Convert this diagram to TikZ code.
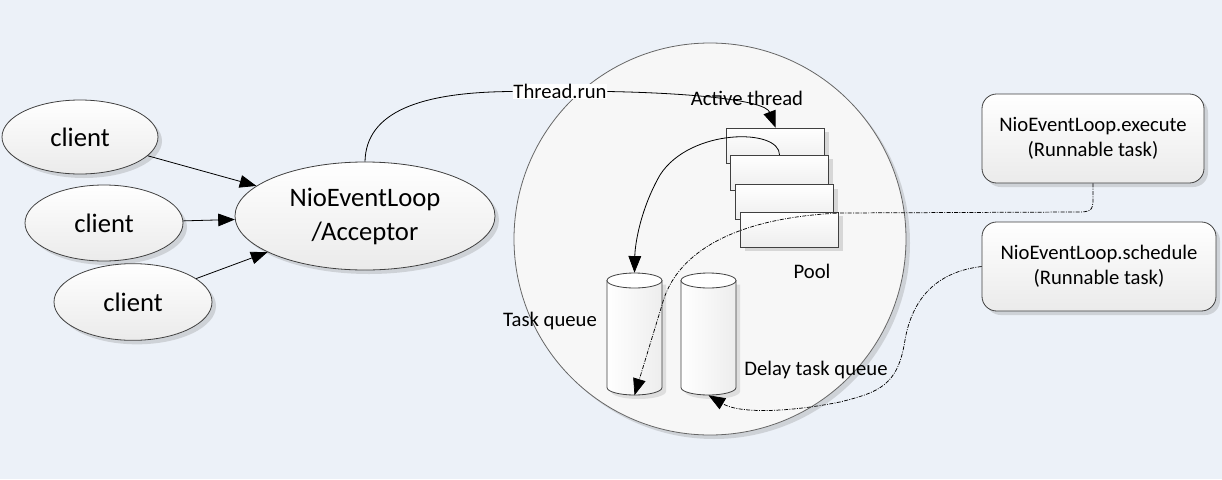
\documentclass[tikz,border=0pt]{standalone}
\usepackage{fontspec}
\setmainfont{Carlito}
\usetikzlibrary{shapes.geometric,shadows,arrows.meta}
\definecolor{bg}{RGB}{236,241,248}
\definecolor{edge}{RGB}{64,64,64}
\begin{document}
\begin{tikzpicture}[x=0.75pt,y=-0.75pt,
  shd/.style={drop shadow={shadow xshift=3pt,shadow yshift=-3pt,opacity=0.22,fill=black!60}},
  ell/.style={ellipse,draw=edge,line width=0.6pt,inner sep=0pt,top color=white,bottom color=black!8,shd,font=\fontsize{20}{24}\selectfont},
  rbox/.style={rectangle,rounded corners=11pt,draw=edge,line width=0.6pt,top color=white,bottom color=black!8,shd,align=center,font=\fontsize{15.5}{18.8}\selectfont},
  prect/.style={rectangle,draw=edge,line width=0.6pt,top color=white,bottom color=black!7,shd,minimum width=73.5pt,minimum height=26.25pt,inner sep=0pt},
  lbl/.style={font=\fontsize{15.5}{18.8}\selectfont,inner sep=0.5pt},
  conn/.style={line width=0.6pt,-{Triangle[length=12.5pt,width=9.5pt]}},
  dd/.style={line width=0.55pt,dash pattern=on 3pt off 1pt on 0.7pt off 1pt,-{Triangle[length=12.5pt,width=9.5pt]}}
]
\useasboundingbox[fill=bg] (0,0) rectangle (1222,479);

% clients and acceptor
\node[ell,minimum width=117pt,minimum height=55.5pt] (c1) at (80,137) {client};
\node[ell,minimum width=118.5pt,minimum height=57pt] (c2) at (104,223) {client};
\node[ell,minimum width=118.5pt,minimum height=57.5pt] (c3) at (133,302) {client};
\node[ell,minimum width=195pt,minimum height=81pt,align=center,font=\fontsize{20}{25.5}\selectfont] (nel) at (365,216) {NioEventLoop\\/Acceptor};
\draw[conn] (c1) -- (nel);
\draw[conn] (c2) -- (nel);
\draw[conn] (c3) -- (nel);

% big circle
\node[circle,draw=black!60,line width=0.6pt,minimum size=294pt,inner sep=0pt,fill=black!3,shd] (pool) at (710,239) {};

% cylinder anchors
\node[minimum width=41.25pt,minimum height=91.5pt,inner sep=0pt] (tq) at (634.5,334) {};
\node[minimum width=41.25pt,minimum height=91.5pt,inner sep=0pt] (dq) at (708.5,334) {};
\coordinate (p2n) at (779.5,155);

% pool rects
\node[prect] (p1) at (775.5,145.5) {};
\draw[conn] (p2n) .. controls (780,128) and (690,128) .. (660,175) .. controls (640,210) and (635,245) .. (tq.north);
\node[prect] (p2) at (779.5,172.5) {};
\node[prect] (p3) at (784.5,202) {};
\node[prect] (p4) at (789.5,229.5) {};

% cylinders
\foreach \cx in {634.5,708.5}{
  \path[fill=black!22,opacity=0.5] (\cx-27.5+4,284.5) -- (\cx-27.5+4,391.5) arc[start angle=180,end angle=0,x radius=27.5,y radius=7.5] -- (\cx+27.5+4,284.5) -- cycle;
  \draw[edge,line width=0.6pt,left color=white,right color=black!7] (\cx-27.5,280.5) -- (\cx-27.5,387.5) arc[start angle=180,end angle=0,x radius=27.5,y radius=7.5] -- (\cx+27.5,280.5) -- cycle;
  \draw[edge,line width=0.6pt,fill=white] (\cx,280.5) ellipse[x radius=27.5,y radius=7.5];
}

% right boxes
\node[rbox,minimum width=166.5pt,minimum height=66.75pt] (ex) at (1093,138.5) {NioEventLoop.execute\\(Runnable task)};
\node[rbox,minimum width=175.5pt,minimum height=66.75pt] (sc) at (1099,266.5) {NioEventLoop.schedule\\(Runnable task)};

% Thread.run
\node[lbl,fill=white] (tr) at (560,91.5) {Thread.run};
\draw[line width=0.6pt] (nel.north) .. controls (366,112) and (420,92) .. (tr.west);
\draw[conn] (tr.east) .. controls (690,93) and (765,100) .. (p1.north);

% dash-dot connectors
\draw[dd] (ex.south) -- ++(0,16) .. controls +(0,12) and (1090,212) .. (1076,212) -- (840,213) .. controls (730,218) and (675,255) .. (662,305) -- (tq.south);
\draw[dd] (sc.west) .. controls (935,272) and (912,300) .. (905,340) .. controls (898,385) and (880,392) .. (840,402) .. controls (790,412) and (740,414) .. (dq.south);

% labels
\node[lbl] (at) at (747,98) {Active thread};
\node[lbl] (pl) at (812,271) {Pool};
\node[lbl] (tql) at (550,321) {Task queue};
\node[lbl] (dql) at (816,370) {Delay task queue};
\end{tikzpicture}
\end{document}
